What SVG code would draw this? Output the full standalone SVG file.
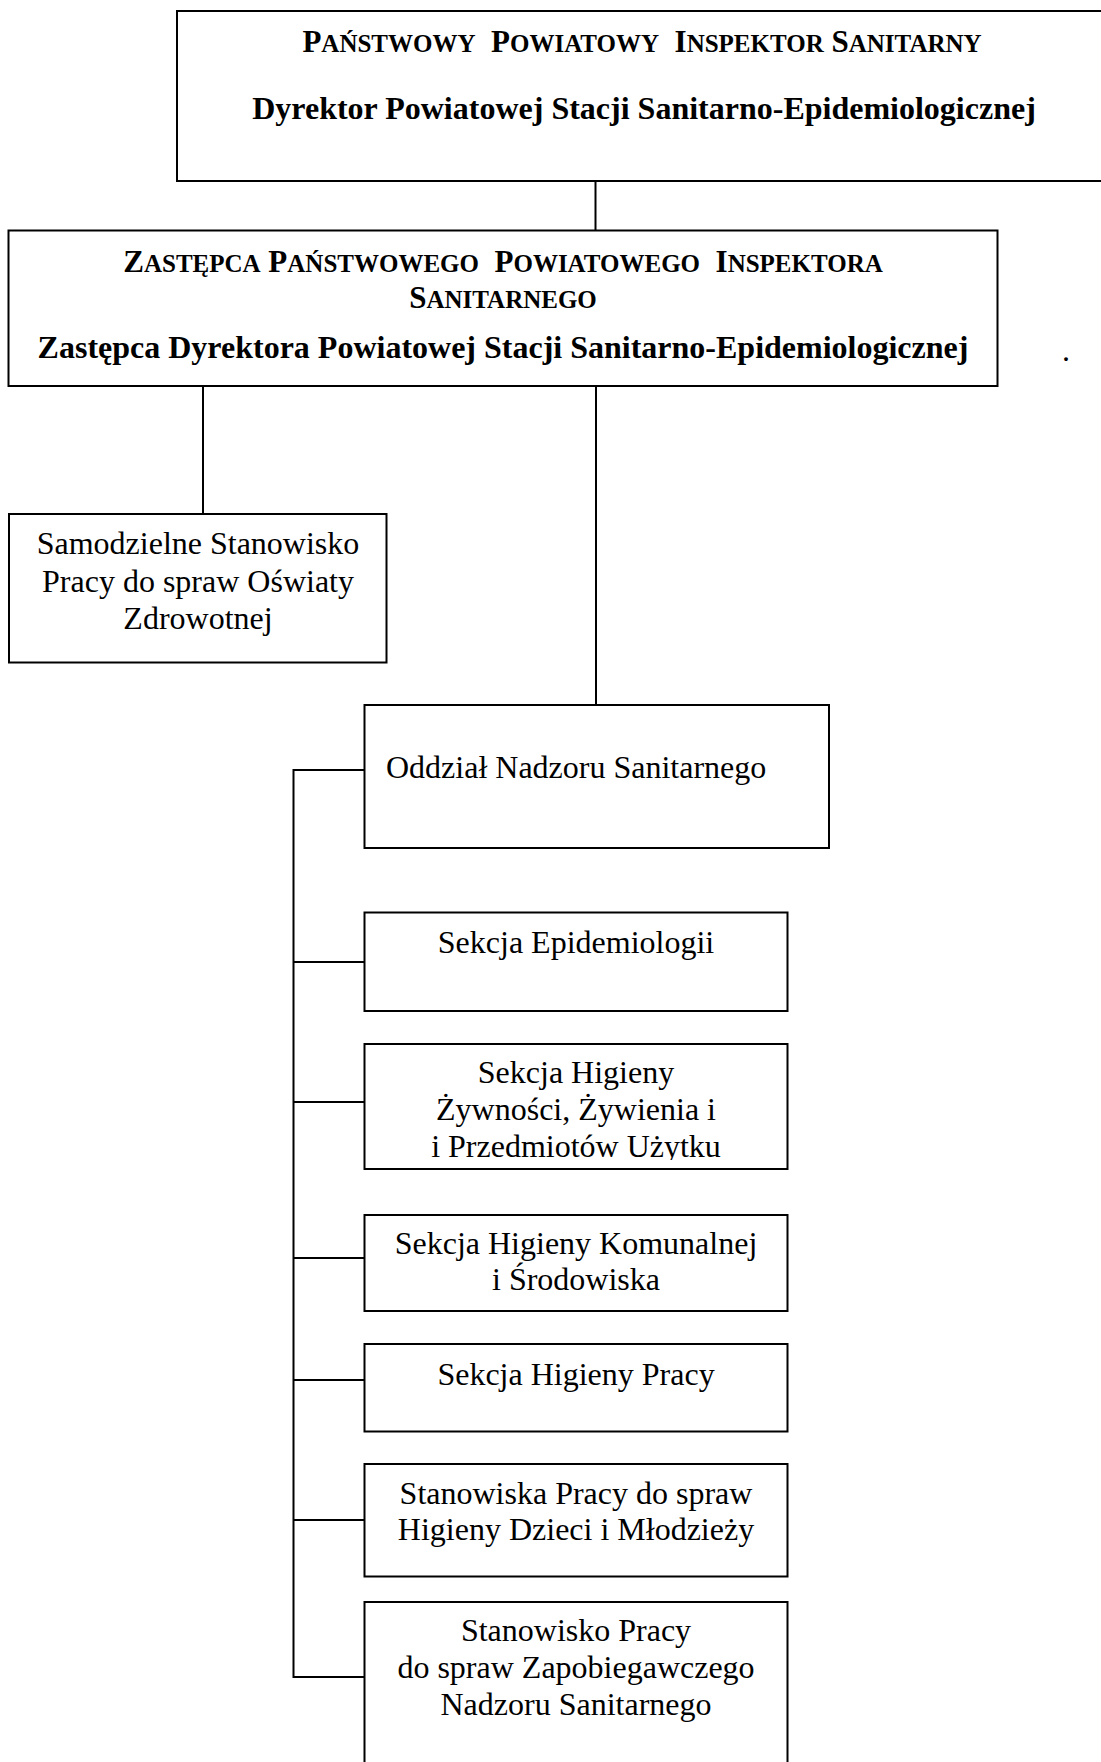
<svg xmlns="http://www.w3.org/2000/svg" width="1101" height="1762" viewBox="0 0 1101 1762">
<style>
  .box { fill: #ffffff; stroke: #000000; stroke-width: 2; }
  .conn { fill: none; stroke: #000000; stroke-width: 2; }
  .b { font-family: "Liberation Serif", "Times New Roman", serif; font-weight: bold; fill: #000; }
  .r { font-family: "Liberation Serif", "Times New Roman", serif; font-size: 32px; fill: #000; }
  .sc { font-size: 25px; }
  .mid { text-anchor: middle; }
</style>
<defs>
  <clipPath id="clip6"><rect x="364" y="1044" width="424" height="116"/></clipPath>
</defs>
<rect x="0" y="0" width="1101" height="1762" fill="#ffffff"/>

<g id="connectors">
  <line class="conn" x1="595.5" y1="181" x2="595.5" y2="230.5"/>
  <line class="conn" x1="203" y1="386" x2="203" y2="514"/>
  <line class="conn" x1="596" y1="386" x2="596" y2="705"/>
  <polyline class="conn" points="364.5,770 293.5,770 293.5,1677 364.5,1677"/>
  <line class="conn" x1="293.5" y1="962" x2="364.5" y2="962"/>
  <line class="conn" x1="293.5" y1="1102" x2="364.5" y2="1102"/>
  <line class="conn" x1="293.5" y1="1258" x2="364.5" y2="1258"/>
  <line class="conn" x1="293.5" y1="1380" x2="364.5" y2="1380"/>
  <line class="conn" x1="293.5" y1="1520" x2="364.5" y2="1520"/>
</g>

<g id="node-inspektor">
  <rect class="box" x="177" y="11" width="934" height="170"/>
  <text class="b mid" x="642" y="52" font-size="31" xml:space="preserve">P<tspan class="sc">AŃSTWOWY</tspan>  P<tspan class="sc">OWIATOWY</tspan>  I<tspan class="sc">NSPEKTOR</tspan> S<tspan class="sc">ANITARNY</tspan></text>
  <text class="b mid" x="644" y="119" font-size="32">Dyrektor Powiatowej Stacji Sanitarno-Epidemiologicznej</text>
</g>

<g id="node-zastepca">
  <rect class="box" x="8.5" y="230.5" width="989" height="155.5"/>
  <text class="b mid" x="503" y="272" font-size="31" xml:space="preserve">Z<tspan class="sc">ASTĘPCA</tspan> P<tspan class="sc">AŃSTWOWEGO</tspan>  P<tspan class="sc">OWIATOWEGO</tspan>  I<tspan class="sc">NSPEKTORA</tspan></text>
  <text class="b mid" x="503" y="308" font-size="31">S<tspan class="sc">ANITARNEGO</tspan></text>
  <text class="b mid" x="503" y="358" font-size="32">Zastępca Dyrektora Powiatowej Stacji Sanitarno-Epidemiologicznej</text>
</g>
<text class="r" x="1062" y="360.5" font-size="26">.</text>

<g id="node-oswiata">
  <rect class="box" x="9" y="514" width="377.5" height="148.5"/>
  <text class="r mid" x="198" y="554">Samodzielne Stanowisko</text>
  <text class="r mid" x="198" y="591.5">Pracy do spraw Oświaty</text>
  <text class="r mid" x="198" y="629">Zdrowotnej</text>
</g>

<g id="node-oddzial">
  <rect class="box" x="364.5" y="705" width="464.5" height="143"/>
  <text class="r" x="386" y="778">Oddział Nadzoru Sanitarnego</text>
</g>

<g id="node-epidemiologia">
  <rect class="box" x="364.5" y="912.5" width="423" height="98.5"/>
  <text class="r mid" x="576" y="953">Sekcja Epidemiologii</text>
</g>

<g id="node-zywnosc">
  <rect class="box" x="364.5" y="1044" width="423" height="125"/>
  <g clip-path="url(#clip6)">
    <text class="r mid" x="576" y="1083">Sekcja Higieny</text>
    <text class="r mid" x="576" y="1120">Żywności, Żywienia i</text>
    <text class="r mid" x="576" y="1157">i Przedmiotów Użytku</text>
  </g>
</g>

<g id="node-komunalna">
  <rect class="box" x="364.5" y="1215" width="423" height="96"/>
  <text class="r mid" x="576" y="1254">Sekcja Higieny Komunalnej</text>
  <text class="r mid" x="576" y="1290">i Środowiska</text>
</g>

<g id="node-praca">
  <rect class="box" x="364.5" y="1344" width="423" height="87.5"/>
  <text class="r mid" x="576" y="1385">Sekcja Higieny Pracy</text>
</g>

<g id="node-dzieci">
  <rect class="box" x="364.5" y="1464" width="423" height="112.5"/>
  <text class="r mid" x="576" y="1504">Stanowiska Pracy do spraw</text>
  <text class="r mid" x="576" y="1540">Higieny Dzieci i Młodzieży</text>
</g>

<g id="node-zapobiegawczy">
  <rect class="box" x="364.5" y="1602" width="423" height="200"/>
  <text class="r mid" x="576" y="1641">Stanowisko Pracy</text>
  <text class="r mid" x="576" y="1678">do spraw Zapobiegawczego</text>
  <text class="r mid" x="576" y="1715">Nadzoru Sanitarnego</text>
</g>
</svg>
